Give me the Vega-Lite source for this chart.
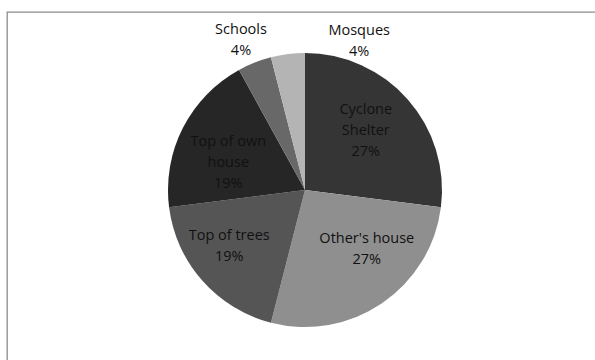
{
  "$schema": "https://vega.github.io/schema/vega-lite/v6.json",
  "width": 595,
  "height": 360,
  "autosize": {"type": "fit", "contains": "padding"},
  "padding": {"left": 7, "top": 12, "right": 0, "bottom": 0},
  "background": "white",
  "view": {"stroke": "#8c8c8c", "strokeWidth": 1.3, "strokeDash": [588, 936, 348]},
  "config": {
    "view": {"stroke": "#8c8c8c", "strokeWidth": 1.3, "strokeDash": [588, 936, 348]},
    "style": {"cell": {"stroke": "#8c8c8c", "strokeWidth": 1.3, "strokeDash": [588, 936, 348]}},
    "text": {"font": "Open Sans", "fontSize": 14.5, "lineHeight": 21, "color": "#111111"}
  },
  "data": {
    "values": [
      {"category": "Cyclone Shelter", "value": 27, "order": 1, "lines": ["Cyclone", "Shelter", "27%"]},
      {"category": "Other's house", "value": 27, "order": 2, "lines": ["Other's house", "27%"]},
      {"category": "Top of trees", "value": 19, "order": 3, "lines": ["Top of trees", "19%"]},
      {"category": "Top of own house", "value": 19, "order": 4, "lines": ["Top of own", "house", "19%"]},
      {"category": "Schools", "value": 4, "order": 5, "lines": ["Schools", "4%"]},
      {"category": "Mosques", "value": 4, "order": 6, "lines": ["Mosques", "4%"]}
    ]
  },
  "encoding": {
    "theta": {"field": "value", "type": "quantitative", "stack": true},
    "order": {"field": "order", "type": "quantitative"}
  },
  "layer": [
    {
      "mark": {"type": "arc", "outerRadius": 137, "x": {"expr": "width/2+4"}, "y": {"expr": "height/2+4"}, "stroke": null},
      "encoding": {
        "color": {
          "field": "category",
          "type": "nominal",
          "legend": null,
          "scale": {
            "domain": ["Cyclone Shelter", "Other's house", "Top of trees", "Top of own house", "Schools", "Mosques"],
            "range": ["#353535", "#8f8f8f", "#555555", "#262626", "#686868", "#b4b4b4"]
          }
        }
      }
    },
    {
      "mark": {"type": "text", "radius": 85, "x": {"expr": "width/2+4"}, "y": {"expr": "height/2+4"}, "dx": -3, "dy": -24, "baseline": "middle", "align": "center"},
      "encoding": {"text": {"condition": {"test": "datum.category === 'Cyclone Shelter'", "field": "lines"}, "value": ""}}
    },
    {
      "mark": {"type": "text", "radius": 85, "x": {"expr": "width/2+4"}, "y": {"expr": "height/2+4"}, "dx": 14, "dy": -21, "baseline": "middle", "align": "center"},
      "encoding": {"text": {"condition": {"test": "datum.category === \"Other's house\"", "field": "lines"}, "value": ""}}
    },
    {
      "mark": {"type": "text", "radius": 85, "x": {"expr": "width/2+4"}, "y": {"expr": "height/2+4"}, "dx": -12, "dy": -10.5, "baseline": "middle", "align": "center"},
      "encoding": {"text": {"condition": {"test": "datum.category === 'Top of trees'", "field": "lines"}, "value": ""}}
    },
    {
      "mark": {"type": "text", "radius": 85, "x": {"expr": "width/2+4"}, "y": {"expr": "height/2+4"}, "dx": -1, "dy": -9, "baseline": "middle", "align": "center"},
      "encoding": {"text": {"condition": {"test": "datum.category === 'Top of own house'", "field": "lines"}, "value": ""}}
    },
    {
      "mark": {"type": "text", "radius": 163, "x": {"expr": "width/2+4"}, "y": {"expr": "height/2+4"}, "dx": -4, "dy": -8, "baseline": "middle", "align": "center"},
      "encoding": {"text": {"condition": {"test": "datum.category === 'Schools'", "field": "lines"}, "value": ""}}
    },
    {
      "mark": {"type": "text", "radius": 150, "x": {"expr": "width/2+4"}, "y": {"expr": "height/2+4"}, "dx": 73, "dy": -10, "baseline": "middle", "align": "center"},
      "encoding": {"text": {"condition": {"test": "datum.category === 'Mosques'", "field": "lines"}, "value": ""}}
    }
  ]
}
